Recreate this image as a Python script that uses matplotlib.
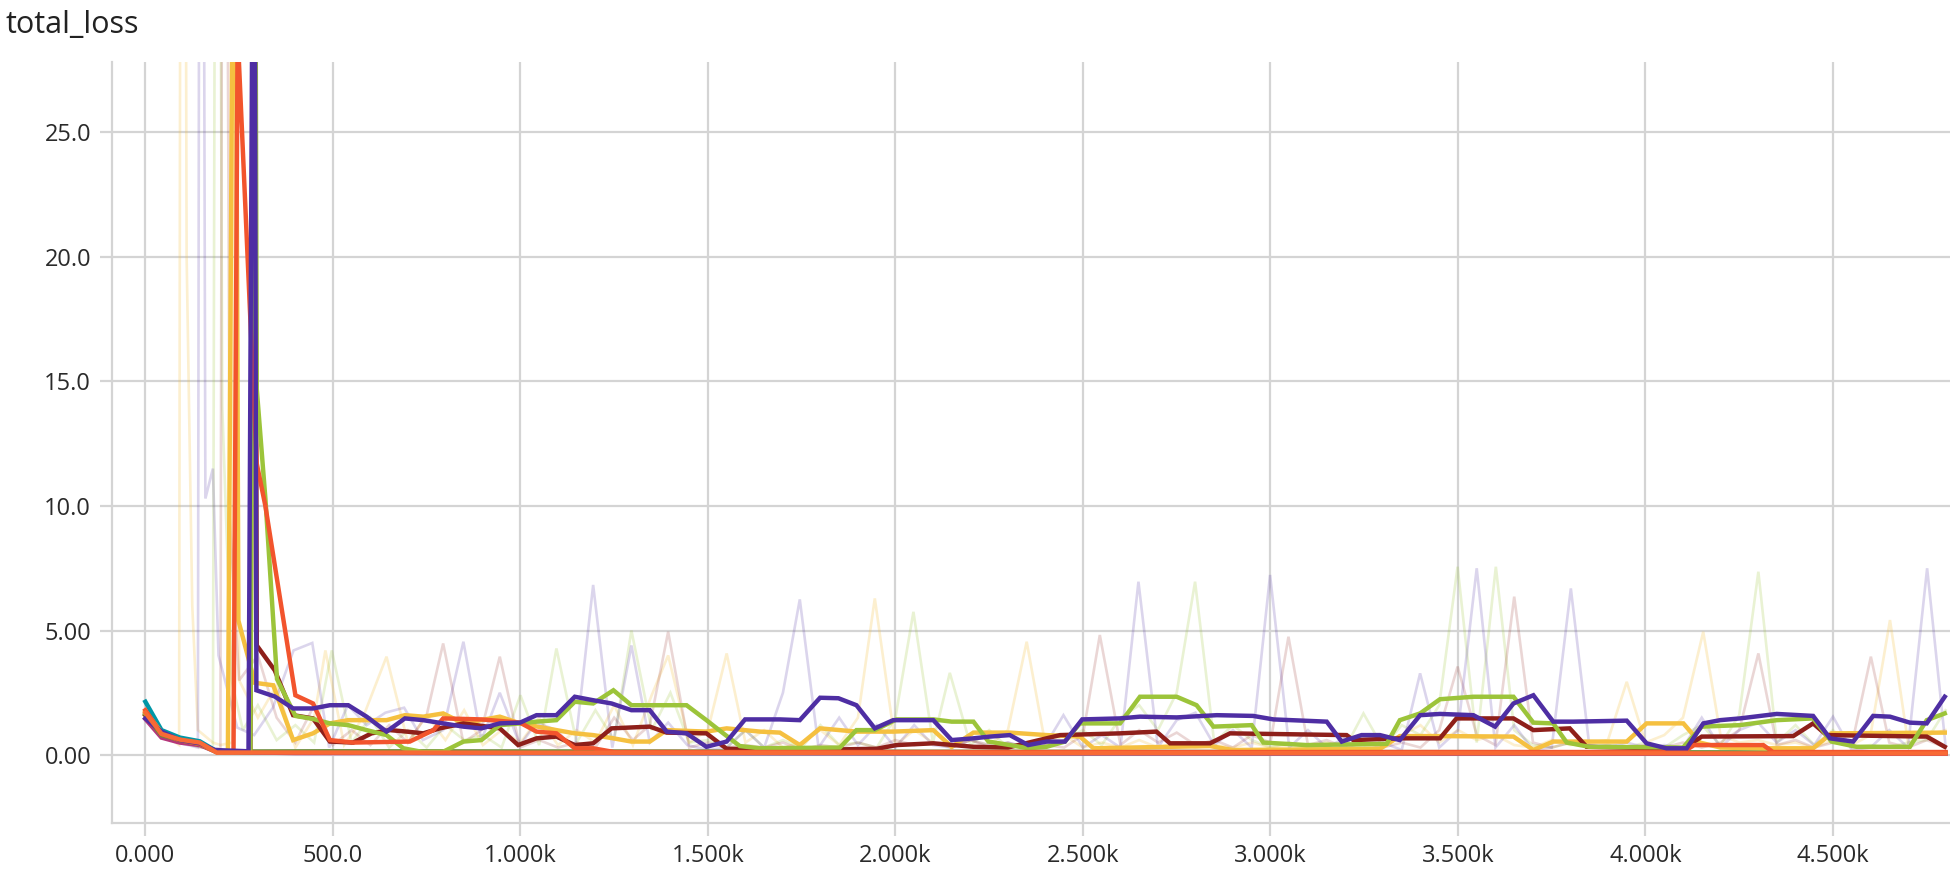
import matplotlib
matplotlib.use("Agg")
import matplotlib.pyplot as plt

plt.rcParams['font.family'] = ['Open Sans', 'DejaVu Sans']

# axis ticks
x_ticks = [0, 500, 1000, 1500, 2000, 2500, 3000, 3500, 4000, 4500]
x_labels = ["0.000", "500.0", "1.000k", "1.500k", "2.000k", "2.500k",
            "3.000k", "3.500k", "4.000k", "4.500k"]
y_ticks = [0, 5, 10, 15, 20, 25]
y_labels = ["0.00", "5.00", "10.0", "15.0", "20.0", "25.0"]

# smoothed runs, (step, value)
purple = [(0, 1.47), (43, 0.94), (92, 0.6), (145, 0.47), (185, 0.2), (275, 0.15), (290, 45), (296, 2.6),
          (345, 2.35), (394, 1.87), (447, 1.87), (492, 2.0), (541, 2.0), (590, 1.54), (643, 0.94),
          (692, 1.47), (741, 1.4), (794, 1.27), (848, 1.14), (896, 1.07), (945, 1.27), (999, 1.3),
          (1043, 1.6), (1096, 1.6), (1145, 2.34), (1194, 2.2), (1243, 2.07), (1296, 1.8), (1345, 1.8),
          (1390, 0.94), (1443, 0.87), (1496, 0.33), (1550, 0.54), (1599, 1.43), (1692, 1.43),
          (1745, 1.4), (1799, 2.3), (1848, 2.28), (1896, 2.0), (1945, 1.07), (1994, 1.4), (2101, 1.4),
          (2150, 0.6), (2208, 0.67), (2252, 0.74), (2305, 0.8), (2354, 0.4), (2403, 0.54), (2452, 0.54),
          (2498, 1.43), (2599, 1.47), (2652, 1.54), (2750, 1.51), (2857, 1.6), (2954, 1.57), (3008, 1.43),
          (3150, 1.34), (3190, 0.54), (3243, 0.8), (3292, 0.8), (3345, 0.6), (3399, 1.6), (3452, 1.65),
          (3541, 1.6), (3599, 1.14), (3648, 2.07), (3701, 2.4), (3754, 1.34), (3808, 1.34), (3950, 1.38),
          (4003, 0.47), (4056, 0.27), (4110, 0.27), (4154, 1.27), (4199, 1.4), (4252, 1.47), (4350, 1.65),
          (4447, 1.57), (4492, 0.67), (4554, 0.54), (4607, 1.57), (4652, 1.54), (4705, 1.3), (4750, 1.27),
          (4798, 2.34)]

gold = [(0, 1.75), (43, 0.9), (92, 0.6), (145, 0.45), (190, 0.12), (220, 0.12), (238, 45), (248, 5.4),
        (292, 2.9), (341, 2.8), (394, 0.6), (447, 0.87), (492, 1.27), (541, 1.4), (590, 1.4), (643, 1.4),
        (692, 1.6), (741, 1.54), (794, 1.67), (848, 1.27), (945, 1.54), (999, 1.27), (1096, 1.0),
        (1145, 0.87), (1194, 0.8), (1248, 0.67), (1296, 0.54), (1345, 0.54), (1390, 1.0), (1496, 0.94),
        (1550, 1.07), (1639, 0.94), (1692, 0.9), (1745, 0.4), (1799, 1.07), (1896, 0.94), (1994, 0.94),
        (2101, 1.0), (2150, 0.33), (2208, 0.9), (2305, 0.9), (2403, 0.8), (2492, 0.74), (2528, 0.27),
        (2732, 0.33), (2839, 0.36), (2900, 0.2), (3292, 0.25), (3345, 0.76), (3452, 0.76), (3648, 0.74),
        (3701, 0.2), (3754, 0.54), (3950, 0.54), (4003, 1.27), (4101, 1.27), (4145, 0.5), (4200, 0.3),
        (4314, 0.27), (4447, 0.27), (4496, 0.87), (4798, 0.9)]

dark_red = [(0, 1.6), (43, 0.9), (92, 0.6), (145, 0.45), (190, 0.12), (280, 0.12), (290, 45), (297, 4.4),
            (345, 3.4), (394, 1.6), (447, 1.47), (492, 0.54), (554, 0.5), (603, 0.87), (652, 1.0),
            (697, 0.94), (741, 0.87), (785, 1.07), (848, 1.27), (945, 1.07), (994, 0.4), (1043, 0.67),
            (1096, 0.74), (1145, 0.4), (1194, 0.47), (1243, 1.07), (1345, 1.14), (1390, 0.9), (1496, 0.87),
            (1550, 0.25), (1745, 0.2), (1950, 0.25), (2003, 0.4), (2101, 0.47), (2208, 0.33), (2300, 0.3),
            (2439, 0.8), (2599, 0.87), (2696, 0.94), (2732, 0.47), (2839, 0.47), (2892, 0.87), (3203, 0.8),
            (3221, 0.6), (3345, 0.67), (3452, 0.67), (3496, 1.47), (3648, 1.47), (3701, 1.0), (3798, 1.07),
            (3843, 0.33), (4101, 0.25), (4150, 0.74), (4394, 0.76), (4447, 1.27), (4483, 0.8), (4750, 0.74),
            (4798, 0.33)]

green = [(0, 1.65), (43, 0.9), (92, 0.6), (145, 0.45), (190, 0.12), (280, 0.12), (292, 40), (297, 14.7),
         (320, 10.3), (351, 3.05), (400, 1.57), (447, 1.45), (492, 1.27), (541, 1.2), (590, 1.0), (643, 0.8),
         (688, 0.27), (740, 0.12), (794, 0.13), (848, 0.54), (896, 0.6), (945, 1.2), (999, 1.27), (1043, 1.34),
         (1096, 1.4), (1145, 2.14), (1194, 2.07), (1248, 2.6), (1296, 2.0), (1443, 2.0), (1496, 1.4),
         (1541, 0.87), (1585, 0.36), (1639, 0.27), (1852, 0.3), (1896, 1.0), (1945, 1.0), (2003, 1.43),
         (2101, 1.43), (2150, 1.34), (2208, 1.34), (2248, 0.54), (2305, 0.4), (2354, 0.27), (2403, 0.33),
         (2452, 0.54), (2492, 1.27), (2599, 1.27), (2652, 2.34), (2750, 2.34), (2803, 2.0), (2848, 1.14),
         (2950, 1.2), (2981, 0.5), (3096, 0.4), (3310, 0.45), (3345, 1.4), (3399, 1.67), (3452, 2.24),
         (3541, 2.34), (3648, 2.34), (3701, 1.3), (3754, 1.27), (3790, 0.5), (3850, 0.33), (4100, 0.3),
         (4150, 1.14), (4252, 1.2), (4350, 1.4), (4447, 1.47), (4496, 0.54), (4563, 0.33), (4705, 0.33),
         (4750, 1.4), (4798, 1.67)]

orange_red = [(0, 1.8), (43, 0.85), (92, 0.6), (145, 0.45), (190, 0.12), (235, 0.12), (246, 29),
              (297, 11.7), (320, 10.0), (400, 2.4), (447, 2.07), (492, 0.6), (554, 0.5), (705, 0.54),
              (768, 1.0), (794, 1.47), (896, 1.43), (999, 1.3), (1043, 0.94), (1096, 0.87), (1145, 0.27),
              (1194, 0.27), (1250, 0.12), (4100, 0.12), (4130, 0.4), (4314, 0.4), (4340, 0.12), (4800, 0.12)]

teal = [(0, 2.14), (43, 1.0), (92, 0.7), (145, 0.55), (190, 0.15), (300, 0.1), (1000, 0.08), (4800, 0.06)]
magenta = [(0, 1.45), (43, 0.7), (92, 0.5), (145, 0.4), (190, 0.12), (400, 0.08), (4800, 0.05)]
olive = [(0, 1.6), (43, 0.8), (92, 0.6), (145, 0.45), (190, 0.14), (500, 0.15), (4800, 0.1)]
orange = [(0, 1.7), (43, 0.85), (92, 0.62), (145, 0.5), (190, 0.1), (4800, 0.06)]

# raw (unsmoothed) runs, drawn faint
purple_raw = [(0, 1.4), (50, 0.7), (100, 0.45), (140, 0.3), (148, 80), (160, 10.3), (180, 11.5), (195, 4.0),
              (245, 1.1), (290, 0.8), (340, 1.9), (395, 4.2), (445, 4.5), (490, 0.3), (540, 2.0), (590, 1.2),
              (640, 1.7), (690, 1.9), (740, 0.6), (794, 1.0), (848, 4.55), (896, 0.6), (945, 2.5), (999, 0.4),
              (1043, 1.3), (1096, 1.0), (1145, 0.2), (1194, 6.83), (1245, 0.3), (1296, 4.4), (1345, 0.5),
              (1394, 1.3), (1445, 0.4), (1500, 0.2), (1550, 0.3), (1600, 1.0), (1650, 0.3), (1700, 2.5),
              (1745, 6.25), (1795, 0.3), (1850, 1.5), (1900, 0.4), (1950, 1.2), (2000, 0.3), (2050, 1.2),
              (2100, 0.4), (2150, 0.3), (2200, 0.6), (2250, 0.4), (2300, 0.5), (2350, 0.3), (2400, 0.4),
              (2448, 1.6), (2500, 0.3), (2550, 0.8), (2600, 0.3), (2648, 6.96), (2700, 0.3), (2750, 1.4),
              (2800, 1.7), (2850, 0.4), (2900, 1.0), (2950, 0.3), (2999, 7.23), (3050, 0.3), (3100, 1.0),
              (3150, 0.3), (3200, 0.7), (3250, 0.4), (3300, 0.5), (3350, 0.2), (3399, 3.28), (3450, 0.3),
              (3500, 1.0), (3550, 7.5), (3600, 0.3), (3650, 1.2), (3700, 0.2), (3750, 0.3), (3801, 6.69),
              (3850, 0.4), (3900, 0.3), (3950, 0.5), (4000, 0.3), (4050, 0.4), (4100, 0.3), (4150, 1.5),
              (4200, 0.3), (4250, 1.0), (4300, 1.3), (4350, 0.5), (4400, 1.0), (4450, 0.4), (4500, 1.54),
              (4550, 0.2), (4600, 0.3), (4650, 1.0), (4700, 0.3), (4751, 7.5), (4800, 0.4)]

dark_red_raw = [(0, 1.5), (50, 0.8), (100, 0.5), (150, 0.3), (200, 0.25), (209, 70), (225, 9.5), (250, 3.0),
                (300, 4.0), (350, 1.5), (400, 0.5), (450, 2.0), (500, 0.4), (550, 1.0), (600, 0.4), (650, 1.2),
                (700, 0.5), (750, 1.6), (794, 4.48), (848, 0.5), (896, 1.0), (945, 3.95), (999, 0.3),
                (1050, 0.6), (1100, 0.3), (1150, 0.5), (1200, 0.3), (1250, 1.5), (1300, 0.6), (1345, 1.2),
                (1394, 4.95), (1450, 0.3), (1500, 0.5), (1550, 0.3), (1600, 0.4), (1650, 0.3), (1700, 0.5),
                (1750, 0.2), (1800, 0.4), (1850, 0.3), (1900, 0.5), (1950, 0.3), (2000, 0.6), (2050, 0.4),
                (2100, 0.5), (2150, 0.3), (2200, 0.6), (2250, 0.3), (2300, 0.5), (2350, 0.3), (2400, 0.4),
                (2450, 0.3), (2500, 0.8), (2545, 4.82), (2600, 0.4), (2650, 1.0), (2700, 0.5), (2750, 0.9),
                (2800, 0.4), (2850, 0.6), (2900, 0.3), (2950, 0.8), (3000, 0.5), (3048, 4.75), (3100, 0.4),
                (3150, 0.6), (3200, 0.3), (3250, 0.5), (3300, 0.3), (3350, 0.5), (3400, 0.3), (3450, 1.0),
                (3499, 3.55), (3550, 0.8), (3600, 0.4), (3650, 6.36), (3700, 0.5), (3750, 0.3), (3800, 0.5),
                (3850, 0.3), (3900, 0.4), (3950, 0.3), (4000, 0.4), (4050, 0.3), (4100, 0.5), (4150, 0.3),
                (4200, 0.5), (4250, 1.0), (4301, 4.08), (4350, 0.4), (4400, 0.6), (4450, 0.3), (4500, 0.5),
                (4550, 0.4), (4601, 3.95), (4650, 0.5), (4700, 0.3), (4750, 0.6), (4800, 0.3)]

green_raw = [(0, 1.6), (50, 0.8), (100, 0.5), (150, 0.3), (180, 0.3), (191, 70), (205, 14), (230, 3.0),
             (260, 1.0), (300, 2.0), (350, 0.6), (400, 1.2), (450, 0.5), (497, 4.2), (550, 0.5), (600, 1.5),
             (650, 0.3), (700, 1.0), (750, 0.3), (800, 1.2), (850, 0.6), (900, 0.8), (950, 0.3), (1000, 2.4),
             (1050, 0.4), (1096, 4.28), (1150, 0.5), (1200, 1.8), (1250, 0.6), (1296, 5.0), (1350, 1.0),
             (1400, 2.5), (1450, 0.5), (1500, 0.6), (1550, 0.3), (1600, 1.0), (1650, 0.3), (1700, 0.6),
             (1750, 0.3), (1800, 1.2), (1850, 0.4), (1900, 0.5), (1950, 0.3), (2000, 1.5), (2048, 5.75),
             (2100, 0.5), (2145, 3.3), (2200, 0.4), (2250, 1.0), (2300, 0.3), (2350, 0.5), (2400, 0.3),
             (2450, 0.6), (2500, 1.0), (2550, 0.4), (2600, 1.5), (2650, 2.0), (2700, 1.0), (2750, 2.5),
             (2799, 6.96), (2850, 0.5), (2900, 1.2), (2950, 0.6), (3000, 0.3), (3050, 0.5), (3100, 0.3),
             (3150, 0.4), (3200, 0.3), (3248, 1.67), (3300, 0.3), (3350, 1.2), (3400, 0.8), (3450, 2.0),
             (3499, 7.56), (3550, 0.5), (3601, 7.56), (3650, 1.0), (3700, 0.4), (3750, 0.3), (3800, 0.5),
             (3850, 0.3), (3900, 0.4), (3950, 0.3), (4000, 0.5), (4050, 0.3), (4100, 0.8), (4150, 1.2),
             (4200, 0.4), (4250, 1.6), (4301, 7.36), (4350, 0.5), (4400, 1.2), (4450, 0.4), (4500, 1.0),
             (4550, 0.3), (4600, 0.4), (4650, 0.3), (4700, 0.5), (4750, 0.6), (4800, 1.8)]

gold_raw = [(0, 1.7), (50, 0.8), (90, 0.4), (98, 90), (110, 20), (125, 6.0), (140, 1.0), (180, 0.5),
            (200, 0.4), (232, 0.5), (240, 40), (250, 3.0), (300, 1.5), (350, 2.8), (400, 0.3), (450, 1.5),
            (480, 4.2), (530, 0.4), (580, 1.5), (643, 3.95), (700, 0.5), (750, 1.6), (800, 0.6), (850, 1.8),
            (900, 0.4), (950, 1.0), (1000, 0.5), (1050, 1.5), (1100, 0.4), (1150, 1.0), (1200, 0.5),
            (1250, 2.0), (1300, 0.4), (1350, 2.4), (1394, 4.0), (1450, 0.5), (1500, 1.0), (1550, 4.08),
            (1600, 0.5), (1650, 1.0), (1700, 0.3), (1750, 0.5), (1800, 1.0), (1850, 0.4), (1900, 1.5),
            (1945, 6.29), (2000, 0.4), (2050, 1.0), (2100, 0.5), (2150, 0.3), (2200, 0.6), (2250, 0.4),
            (2300, 1.0), (2350, 4.55), (2400, 0.4), (2450, 0.8), (2500, 0.3), (2550, 0.5), (2600, 0.3),
            (2650, 0.6), (2700, 0.3), (2750, 0.5), (2800, 0.3), (2850, 0.4), (2900, 0.3), (2950, 0.5),
            (3000, 0.3), (3050, 0.4), (3100, 0.3), (3150, 0.5), (3200, 0.3), (3250, 0.4), (3300, 0.3),
            (3350, 0.8), (3400, 1.2), (3450, 0.5), (3500, 1.0), (3550, 0.6), (3600, 0.8), (3650, 0.4),
            (3700, 0.3), (3750, 0.6), (3800, 0.4), (3850, 0.5), (3900, 0.6), (3950, 2.94), (4000, 0.5),
            (4050, 0.8), (4100, 1.5), (4154, 4.95), (4200, 0.8), (4250, 0.5), (4300, 0.6), (4350, 0.4),
            (4400, 0.5), (4450, 0.3), (4500, 0.6), (4550, 0.4), (4600, 0.8), (4652, 5.42), (4700, 0.5),
            (4750, 0.8), (4800, 1.0)]

C_PURPLE = "#4e2ea3"
C_DARKRED = "#8e1f1a"
C_GREEN = "#9cc43a"
C_GOLD = "#f5c040"
C_ORANGE_RED = "#f2542d"

raw_runs = [(gold_raw, C_GOLD, 0.25), (green_raw, C_GREEN, 0.22),
            (dark_red_raw, C_DARKRED, 0.18), (purple_raw, C_PURPLE, 0.2)]
bold_runs = [(teal, "#0097a7"), (magenta, "#b5367a"), (olive, "#6d8b3a"),
             (gold, C_GOLD), (dark_red, C_DARKRED), (green, C_GREEN),
             (orange_red, C_ORANGE_RED), (purple, C_PURPLE), (orange, "#f86a35")]

W, H = 1950, 880
fig = plt.figure(figsize=(W / 100, H / 100), dpi=100)
ax = fig.add_axes([112 / W, 57 / H, 1 - 112 / W, (823 - 62) / H])

for run, color, alpha in raw_runs:
    xs, ys = zip(*run)
    ax.plot(xs, ys, color=color, alpha=alpha, lw=1.9, solid_joinstyle="miter")

for run, color in bold_runs:
    xs, ys = zip(*run)
    ax.plot(xs, ys, color=color, lw=3.2, solid_joinstyle="miter")

ax.set_xlim(-89, 4812)
ax.set_ylim(-2.73, 27.83)
ax.set_xticks(x_ticks)
ax.set_xticklabels(x_labels)
ax.set_yticks(y_ticks)
ax.set_yticklabels(y_labels)

grid_c = "#d4d4d4"
ax.grid(True, color=grid_c, lw=1.6)
ax.set_axisbelow(True)
for side in ("top", "right"):
    ax.spines[side].set_visible(False)
for side in ("left", "bottom"):
    ax.spines[side].set_color(grid_c)
    ax.spines[side].set_linewidth(1.6)
ax.tick_params(length=9, width=1.6, color=grid_c, labelsize=17, labelcolor="#2a2a2a", pad=6)

fig.text(5 / W, 1 - 25 / H, "total_loss", fontsize=22, color="#222222", va="center", ha="left")

fig.savefig("out.png", dpi=100)
